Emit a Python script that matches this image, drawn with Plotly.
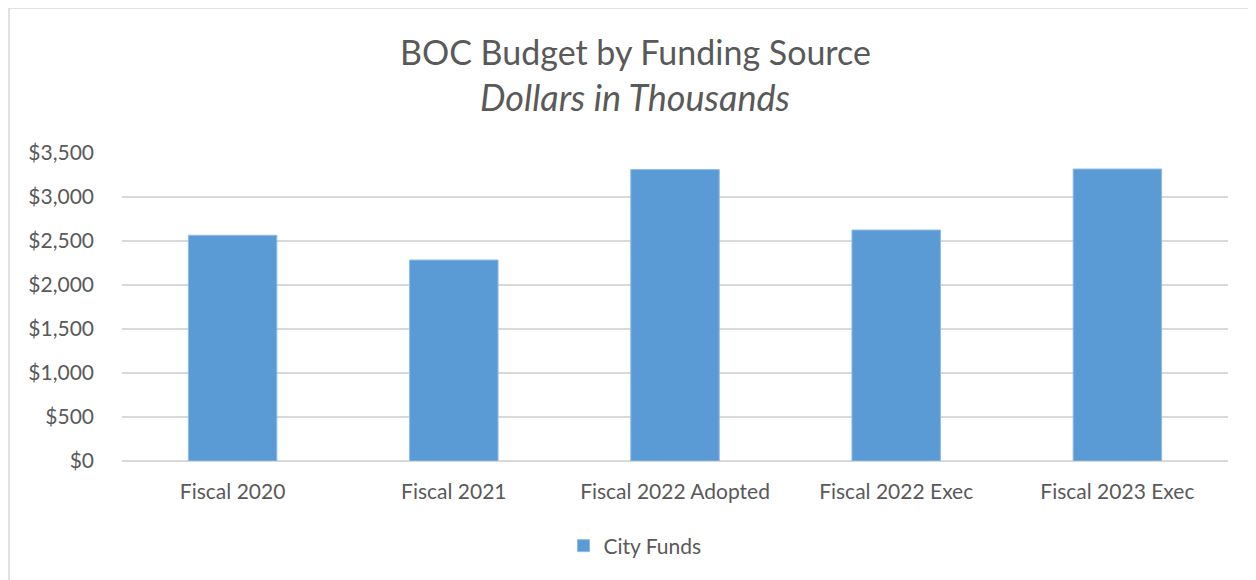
import plotly.graph_objects as go

categories = ["Fiscal 2020", "Fiscal 2021", "Fiscal 2022 Adopted", "Fiscal 2022 Exec", "Fiscal 2023 Exec"]
city_funds = [2565, 2284, 3312, 2625, 3318]
tick_vals = [0, 500, 1000, 1500, 2000, 2500, 3000, 3500]
tick_text = ["$0", "$500", "$1,000", "$1,500", "$2,000", "$2,500", "$3,000", "$3,500"]

FONT = "Lato"
GREY = "#595959"

# page body has an 8px default margin -> work in reference pixels minus 8
OFF = 8
W, H = 1256 - OFF, 580 - OFF
plot_left, plot_right, plot_top, plot_bottom = 122 - OFF, 1228 - OFF, 153 - OFF, 461 - OFF
L, R, T, B = plot_left, W - plot_right, plot_top, H - plot_bottom
pw = W - L - R
ph = H - T - B

def px_x(p):
    return (p - OFF - L) / pw

def px_y(p):
    return (plot_bottom - (p - OFF)) / ph

fig = go.Figure()
fig.add_trace(go.Bar(
    x=categories, y=city_funds, name="City Funds",
    marker=dict(color="#5B9BD5", line=dict(color="#8FBCE6", width=1)),
))

fig.update_layout(
    width=W, height=H,
    margin=dict(l=L, r=R, t=T, b=B),
    paper_bgcolor="white", plot_bgcolor="white",
    font=dict(family=FONT, color=GREY, size=21),
    bargap=0.6,
    showlegend=True,
    legend=dict(orientation="h", x=px_x(635), xanchor="center", y=px_y(546), yanchor="middle",
                font=dict(size=21, color=GREY, family=FONT), itemwidth=30),
    xaxis=dict(showgrid=False, showline=False, ticks="", ticklabelstandoff=16,
               tickfont=dict(size=21, color=GREY)),
    yaxis=dict(range=[0, 3500], tickvals=tick_vals, ticktext=tick_text,
               showgrid=True, gridcolor="#D9D9D9", gridwidth=1.5,
               zeroline=True, zerolinecolor="#D9D9D9", zerolinewidth=1.5,
               showline=False, ticks="", ticklabelstandoff=27,
               tickfont=dict(size=21, color=GREY)),
    shapes=[dict(type="rect", xref="paper", yref="paper",
                 x0=px_x(9), x1=px_x(1262), y0=px_y(590), y1=px_y(8),
                 line=dict(color="#D9D9D9", width=1.5), fillcolor="rgba(0,0,0,0)", layer="below")],
    annotations=[
        dict(text="BOC Budget by Funding Source", xref="paper", yref="paper",
             x=px_x(635), y=px_y(52), xanchor="center", yanchor="middle", showarrow=False,
             font=dict(size=34, color=GREY, family=FONT)),
        dict(text="<i>Dollars in Thousands</i>", xref="paper", yref="paper",
             x=px_x(635), y=px_y(97), xanchor="center", yanchor="middle", showarrow=False,
             font=dict(size=36, color=GREY, family=FONT)),
    ],
)

fig.write_html("out.html")
